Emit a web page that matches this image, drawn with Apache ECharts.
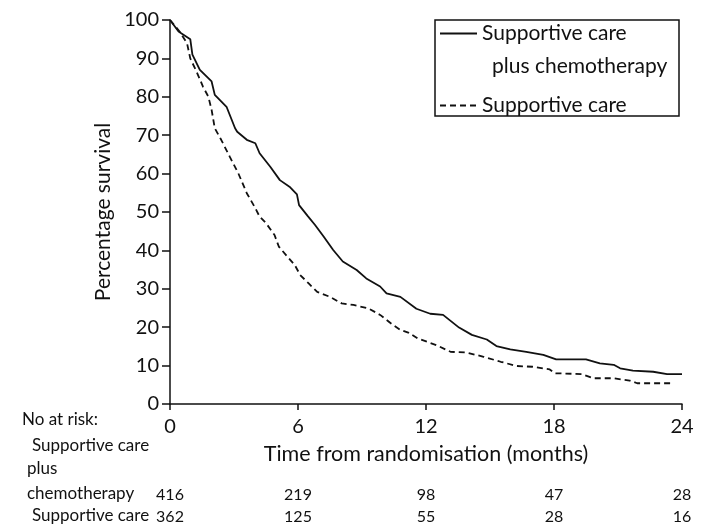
<!DOCTYPE html>
<html>
<head>
<meta charset="utf-8">
<script src="https://cdn.jsdelivr.net/npm/echarts@6/dist/echarts.min.js"></script>
<style>
  html, body { margin: 0; padding: 0; background: #fff; }
  #chart { width: 709px; height: 531px; }
</style>
</head>
<body>
<div id="chart"></div>
<script>
// ---- Data ----
const xTicks = [0, 6, 12, 18, 24];

const chemoMonths = [0, 0.4, 0.95, 1.05, 1.4, 1.95, 2.1, 2.65, 3.05, 3.15, 3.6, 4.0, 4.2, 4.7, 5.15, 5.6, 5.95, 6.05, 6.45, 6.8, 7.2, 7.65, 8.1, 8.75, 9.2, 9.85, 10.15, 10.8, 11.55, 12.2, 12.8, 13.55, 14.15, 14.85, 15.3, 15.95, 16.7, 17.5, 18.1, 19.5, 20.15, 20.8, 21.1, 21.7, 22.65, 23.3, 24];
const chemoSurvival = [100, 97, 95, 91, 87, 84, 80.5, 77.4, 71.8, 70.9, 68.8, 67.9, 65.3, 61.8, 58.3, 56.6, 54.6, 51.8, 49, 46.6, 43.6, 40.1, 37.1, 34.9, 32.7, 30.6, 28.8, 27.9, 24.8, 23.5, 23.2, 19.9, 18.0, 16.8, 15.1, 14.2, 13.6, 12.8, 11.6, 11.6, 10.6, 10.2, 9.3, 8.7, 8.4, 7.8, 7.8];

const careMonths = [0, 0.45, 0.8, 0.95, 1.25, 1.55, 1.8, 1.95, 2.1, 2.4, 2.8, 3.2, 3.6, 4.0, 4.2, 4.5, 4.9, 5.1, 5.5, 5.85, 6.1, 6.5, 6.9, 7.5, 8.05, 8.6, 9.3, 9.85, 10.45, 10.8, 11.2, 11.6, 12.5, 13.15, 13.9, 14.7, 15.5, 16.25, 17.0, 17.8, 18.05, 19.3, 19.85, 20.8, 21.55, 21.9, 23.6];
const careSurvival = [100, 97, 93.9, 90, 86.5, 82.6, 80, 76.6, 71.8, 68.8, 64.4, 60.1, 54.9, 51, 48.8, 47.1, 44, 41, 38.4, 36.2, 33.6, 31.4, 29.2, 27.9, 26.2, 25.8, 24.9, 23.2, 20.6, 19.3, 18.5, 17.1, 15.3, 13.6, 13.4, 12.3, 11.0, 9.9, 9.7, 9.0, 8.0, 7.8, 6.7, 6.7, 6.1, 5.4, 5.4];

const atRiskChemo = [416, 219, 98, 47, 28];
const atRiskCare = [362, 125, 55, 28, 16];

const seriesNames = ['Supportive care plus chemotherapy', 'Supportive care'];
const legendLabels = ['Supportive care', 'Supportive care'];

// ---- Chart ----
const FONT = 'Lato, "DejaVu Sans Condensed", sans-serif';
const INK = '#111';

function zip(a, b) { return a.map((v, i) => [v, b[i]]); }
function riskFormatter(arr) {
  return function (v) { const i = xTicks.indexOf(v); return i >= 0 ? String(arr[i]) : ''; };
}
function riskAxis(arr, offset) {
  return {
    type: 'value', gridIndex: 0, position: 'bottom', offset: offset,
    min: 0, max: 24, interval: 6,
    axisLine: { show: false }, axisTick: { show: false }, splitLine: { show: false },
    axisLabel: { show: true, margin: 0, fontFamily: FONT, fontSize: 16, color: INK,
      showMinLabel: true, showMaxLabel: true, formatter: riskFormatter(arr) }
  };
}

const chart = echarts.init(document.getElementById('chart'), null, { renderer: 'canvas' });
chart.setOption({
  backgroundColor: '#fff',
  animation: false,
  grid: { left: 170, right: 27, top: 20, bottom: 127, containLabel: false },
  xAxis: [
    {
      type: 'value', min: 0, max: 24, interval: 6,
      name: 'Time from randomisation (months)', nameLocation: 'middle', nameGap: 39,
      nameTextStyle: { fontFamily: FONT, fontSize: 21.5, color: INK },
      axisLine: { lineStyle: { color: INK, width: 1.5 } },
      axisTick: { show: true, length: 6, lineStyle: { color: INK, width: 1.5 } },
      axisLabel: { fontFamily: FONT, fontSize: 20, color: INK, margin: 13 },
      splitLine: { show: false }
    },
    riskAxis(atRiskChemo, 83),
    riskAxis(atRiskCare, 105)
  ],
  yAxis: {
    type: 'value', min: 0, max: 100, interval: 10,
    name: 'Percentage survival', nameLocation: 'middle', nameGap: 55,
    nameTextStyle: { fontFamily: FONT, fontSize: 21, color: INK },
    axisLine: { show: true, lineStyle: { color: INK, width: 1.5 } },
    axisTick: { show: true, length: 8, lineStyle: { color: INK, width: 1.5 } },
    axisLabel: { fontFamily: FONT, fontSize: 20, color: INK, margin: 11 },
    splitLine: { show: false }
  },
  legend: {
    orient: 'vertical', left: 439, top: 23, padding: 0,
    itemWidth: 37, itemHeight: 14, itemGap: 51,
    data: seriesNames,
    itemStyle: { opacity: 0 },
    formatter: function (name) { return legendLabels[seriesNames.indexOf(name)]; },
    textStyle: { fontFamily: FONT, fontSize: 21, color: INK }
  },
  graphic: [
    { type: 'rect', shape: { x: 435, y: 20, width: 244, height: 96 },
      style: { fill: 'none', stroke: INK, lineWidth: 1.5 }, silent: true },
    { type: 'text', left: 492, top: 56, style: { text: 'plus chemotherapy', font: '21px ' + FONT, fill: INK } },
    { type: 'text', left: 22, top: 411, style: { text: 'No at risk:', font: '17px ' + FONT, fill: INK } },
    { type: 'text', left: 32, top: 437, style: { text: 'Supportive care', font: '17px ' + FONT, fill: INK } },
    { type: 'text', left: 27, top: 460, style: { text: 'plus', font: '17px ' + FONT, fill: INK } },
    { type: 'text', left: 27, top: 485, style: { text: 'chemotherapy', font: '17px ' + FONT, fill: INK } },
    { type: 'text', left: 32, top: 507, style: { text: 'Supportive care', font: '17px ' + FONT, fill: INK } }
  ],
  series: [
    {
      name: seriesNames[0], type: 'line', xAxisIndex: 0, yAxisIndex: 0,
      data: zip(chemoMonths, chemoSurvival), symbol: 'none', smooth: false,
      lineStyle: { color: INK, width: 1.8, type: 'solid' }, itemStyle: { color: INK }
    },
    {
      name: seriesNames[1], type: 'line', xAxisIndex: 0, yAxisIndex: 0,
      data: zip(careMonths, careSurvival), symbol: 'none', smooth: false,
      lineStyle: { color: INK, width: 1.8, type: [6, 4] }, itemStyle: { color: INK }
    }
  ]
});
</script>
</body>
</html>
